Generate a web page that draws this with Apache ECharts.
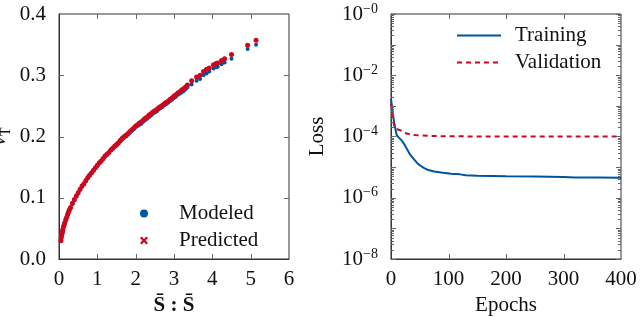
<!DOCTYPE html>
<html>
<head>
    <meta charset="utf-8" />
    <title></title>
    <script src="https://cdn.jsdelivr.net/npm/echarts@6/dist/echarts.min.js"></script>
</head>
<body style="margin:0;background:#fff;">
    <div id="main" style="width:640px;height:333px;"></div>
    <script>
        // left panel: nu_T against S:S
        var strainX = [0.05, 0.06, 0.07, 0.08, 0.09, 0.10, 0.12, 0.135, 0.15, 0.175, 0.20, 0.225, 0.25, 0.275, 0.30, 0.35,
            0.40, 0.45, 0.50, 0.55, 0.60, 0.65, 0.70, 0.75, 0.80, 0.85, 0.90, 0.95, 1.00, 1.05, 1.10, 1.15, 1.20, 1.25,
            1.30, 1.35, 1.40, 1.45, 1.50, 1.55, 1.60, 1.65, 1.70, 1.75, 1.80, 1.85, 1.90, 1.95, 2.00, 2.05, 2.10, 2.15,
            2.20, 2.25, 2.30, 2.35, 2.40, 2.45, 2.50, 2.55, 2.60, 2.65, 2.70, 2.75, 2.80, 2.85, 2.90, 2.95, 3.00, 3.05,
            3.10, 3.15, 3.20, 3.25, 3.30, 3.35,
            3.46, 3.59, 3.68, 3.77, 3.85, 3.92, 4.03, 4.10, 4.14, 4.24, 4.32, 4.50, 4.92, 5.14];
        var nuPredicted = [0.030, 0.035, 0.039, 0.042, 0.045, 0.048, 0.053, 0.056, 0.059, 0.064, 0.068, 0.073, 0.077, 0.081, 0.084, 0.091,
            0.097, 0.103, 0.108, 0.114, 0.119, 0.123, 0.128, 0.133, 0.137, 0.141, 0.145, 0.149, 0.153, 0.157, 0.160, 0.164, 0.168, 0.171,
            0.174, 0.178, 0.181, 0.184, 0.187, 0.190, 0.194, 0.197, 0.200, 0.202, 0.205, 0.208, 0.211, 0.214, 0.217, 0.219, 0.222, 0.224,
            0.227, 0.230, 0.232, 0.235, 0.237, 0.240, 0.242, 0.244, 0.247, 0.249, 0.251, 0.254, 0.256, 0.258, 0.261, 0.263, 0.266, 0.268,
            0.271, 0.273, 0.276, 0.278, 0.281, 0.284,
            0.291, 0.297, 0.300, 0.306, 0.310, 0.312, 0.317, 0.319, 0.320, 0.324, 0.327, 0.334, 0.349, 0.357];
        var nuModeled = [0.030, 0.035, 0.039, 0.042, 0.045, 0.048, 0.053, 0.056, 0.059, 0.063, 0.067, 0.072, 0.076, 0.080, 0.083, 0.090,
            0.096, 0.102, 0.107, 0.113, 0.118, 0.122, 0.127, 0.132, 0.136, 0.140, 0.144, 0.148, 0.152, 0.156, 0.159, 0.163, 0.167, 0.170,
            0.173, 0.177, 0.180, 0.183, 0.185, 0.188, 0.192, 0.195, 0.198, 0.200, 0.203, 0.206, 0.209, 0.212, 0.215, 0.217, 0.219, 0.221,
            0.224, 0.227, 0.229, 0.232, 0.234, 0.237, 0.239, 0.241, 0.244, 0.246, 0.248, 0.251, 0.253, 0.255, 0.258, 0.260, 0.263, 0.265,
            0.268, 0.270, 0.272, 0.274, 0.277, 0.280,
            0.285, 0.291, 0.294, 0.300, 0.303, 0.306, 0.311, 0.313, 0.314, 0.318, 0.321, 0.327, 0.343, 0.350];

        // right panel: loss history
        var epochsTrain = [0, 3, 6, 10, 14, 18, 22, 27, 33, 39, 45, 50, 57, 65, 75, 90, 105, 120, 130, 150, 200, 250, 300, 320, 360, 400];
        var lossTrain = [1.7e-3, 6e-4, 2.5e-4, 1.1e-4, 9e-5, 7.6e-5, 6e-5, 4.1e-5, 2.6e-5, 1.9e-5, 1.4e-5, 1.15e-5, 9.5e-6, 8e-6,
            7.2e-6, 6.5e-6, 6.1e-6, 5.8e-6, 5.4e-6, 5.2e-6, 5.0e-6, 4.9e-6, 4.8e-6, 4.6e-6, 4.6e-6, 4.5e-6];
        var epochsVal = [0, 3, 5, 7, 12, 16, 22, 27, 35, 50, 80, 150, 250, 400];
        var lossVal = [1.2e-3, 5e-4, 2.5e-4, 1.9e-4, 1.7e-4, 1.6e-4, 1.4e-4, 1.25e-4, 1.15e-4, 1.08e-4, 1.03e-4, 1.0e-4, 1.0e-4, 1.0e-4];

        // tick positions
        var strainTicks = [1, 2, 3, 4, 5];
        var nuTicks = [0.1, 0.2, 0.3];
        var epochTicks = [100, 200, 300];
        var lossExponents = [0, -2, -4, -6, -8]; // labelled decades

        var blue = '#00549F', red = '#CC071E';
        var font = 'Liberation Serif';
        var fs = 21;

        function frame() {
            return { show: true, onZero: false, lineStyle: { color: '#333', width: 1 } };
        }
        function zip(a, b) {
            return a.map(function (v, i) { return [v, b[i]]; });
        }

        var crossIcon = 'path://M0,2 L2,0 L5,3 L8,0 L10,2 L7,5 L10,8 L8,10 L5,7 L2,10 L0,8 L3,5 Z';

        var chart = echarts.init(document.getElementById('main'));
        chart.setOption({
            animation: false,
            textStyle: { fontFamily: font, color: '#111' },
            grid: [
                { left: 59, top: 14, width: 230, height: 245, outerBoundsMode: 'none', show: true, borderColor: '#333', borderWidth: 1 },
                { left: 391, top: 14, width: 230, height: 245, outerBoundsMode: 'none', show: true, borderColor: '#333', borderWidth: 1 }
            ],
            legend: [
                {
                    data: ['Modeled', { name: 'Predicted', icon: crossIcon }],
                    orient: 'vertical', left: 135, top: 198, itemGap: 6,
                    itemWidth: 8, itemHeight: 8,
                    textStyle: { fontFamily: font, fontSize: fs, lineHeight: 20, color: '#111', padding: [0, 0, 0, 26] }
                },
                {
                    data: ['Training', 'Validation'],
                    orient: 'vertical', left: 451, top: 20, itemGap: 6,
                    itemWidth: 44, itemHeight: 14,
                    itemStyle: { opacity: 0 },
                    textStyle: { fontFamily: font, fontSize: fs, lineHeight: 20, color: '#111', padding: [0, 0, 0, 9] }
                }
            ],
            xAxis: [
                {
                    gridIndex: 0, type: 'value', min: 0, max: 6, interval: 1,
                    axisLine: frame(), axisTick: { show: false }, splitLine: { show: false },
                    axisLabel: { fontFamily: font, fontSize: fs, color: '#111', margin: 10 },
                    name: 'S\u0304 : S\u0304', nameLocation: 'middle', nameGap: 26,
                    nameTextStyle: { fontFamily: font, fontSize: fs, fontWeight: 'bold', color: '#111' }
                },
                {
                    gridIndex: 1, type: 'value', min: 0, max: 400, interval: 100,
                    axisLine: frame(), axisTick: { show: false }, splitLine: { show: false },
                    axisLabel: { fontFamily: font, fontSize: fs, color: '#111', margin: 10 },
                    name: 'Epochs', nameLocation: 'middle', nameGap: 24,
                    nameTextStyle: { fontFamily: font, fontSize: fs, color: '#111' }
                }
            ],
            yAxis: [
                {
                    gridIndex: 0, type: 'value', min: 0, max: 0.4, interval: 0.1,
                    axisLine: frame(), axisTick: { show: false }, splitLine: { show: false },
                    axisLabel: {
                        fontFamily: font, fontSize: fs, color: '#111', margin: 13,
                        formatter: function (v) { return v.toFixed(1); }
                    },
                    name: '{n|\u03bd}{s|T}', nameLocation: 'middle', nameGap: 46,
                    nameTextStyle: {
                        rich: {
                            n: { fontFamily: font, fontSize: 22, fontStyle: 'italic', color: '#111' },
                            s: { fontFamily: font, fontSize: 14, color: '#111', padding: [14, 0, 0, 0] }
                        }
                    }
                },
                {
                    gridIndex: 1, type: 'log', logBase: 10, min: 1e-8, max: 1, splitNumber: 8,
                    axisLine: frame(), axisTick: { show: false }, splitLine: { show: false },
                    axisLabel: {
                        margin: 13,
                        formatter: function (v) {
                            var ex = Math.round(Math.log10(v));
                            if (lossExponents.indexOf(ex) < 0) return '';
                            return '{b|10}{s|\u2212' + Math.abs(ex) + '}';
                        },
                        rich: {
                            b: { fontFamily: font, fontSize: fs, color: '#111' },
                            s: { fontFamily: font, fontSize: 14, color: '#111', padding: [0, 0, 10, 0] }
                        }
                    },
                    name: 'Loss', nameLocation: 'middle', nameGap: 63,
                    nameTextStyle: { fontFamily: font, fontSize: fs, color: '#111' }
                }
            ],
            series: [
                {
                    name: 'Modeled', type: 'scatter', xAxisIndex: 0, yAxisIndex: 0,
                    symbol: 'circle', symbolSize: 4, itemStyle: { color: blue, opacity: 1 },
                    data: zip(strainX, nuModeled)
                },
                {
                    name: 'Predicted', type: 'scatter', xAxisIndex: 0, yAxisIndex: 0,
                    symbol: 'circle', symbolSize: 5, itemStyle: { color: red, opacity: 1 },
                    data: zip(strainX, nuPredicted)
                },
                {
                    name: 'Training', type: 'line', xAxisIndex: 1, yAxisIndex: 1,
                    symbol: 'none', lineStyle: { color: blue, width: 2 }, itemStyle: { color: blue },
                    data: zip(epochsTrain, lossTrain)
                },
                {
                    name: 'Validation', type: 'line', xAxisIndex: 1, yAxisIndex: 1,
                    symbol: 'none', lineStyle: { color: red, width: 2, type: [5, 4] }, itemStyle: { color: red },
                    data: zip(epochsVal, lossVal)
                }
            ]
        });

        // inward ticks on all four sides, placed through the axes' own scales
        var marks = [];
        function seg(x1, y1, x2, y2) {
            marks.push({
                type: 'line', z: 100, silent: true,
                shape: { x1: x1, y1: y1, x2: x2, y2: y2 },
                style: { stroke: '#666', lineWidth: 1 }
            });
        }
        function px(opt, v) { return Math.round(chart.convertToPixel(opt, v)) + 0.5; }

        var lTop = chart.convertToPixel({ yAxisIndex: 0 }, 0.4), lBot = chart.convertToPixel({ yAxisIndex: 0 }, 0);
        var lLeft = chart.convertToPixel({ xAxisIndex: 0 }, 0), lRight = chart.convertToPixel({ xAxisIndex: 0 }, 6);
        strainTicks.forEach(function (v) {
            var x = px({ xAxisIndex: 0 }, v);
            seg(x, lBot, x, lBot - 5); seg(x, lTop, x, lTop + 5);
        });
        nuTicks.forEach(function (v) {
            var y = px({ yAxisIndex: 0 }, v);
            seg(lLeft, y, lLeft + 5, y); seg(lRight, y, lRight - 5, y);
        });

        var rTop = chart.convertToPixel({ yAxisIndex: 1 }, 1), rBot = chart.convertToPixel({ yAxisIndex: 1 }, 1e-8);
        var rLeft = chart.convertToPixel({ xAxisIndex: 1 }, 0), rRight = chart.convertToPixel({ xAxisIndex: 1 }, 400);
        epochTicks.forEach(function (v) {
            var x = px({ xAxisIndex: 1 }, v);
            seg(x, rBot, x, rBot - 5); seg(x, rTop, x, rTop + 5);
        });
        for (var e = -8; e <= 0; e++) {
            var yd = px({ yAxisIndex: 1 }, Math.pow(10, e));
            seg(rLeft, yd, rLeft + 5, yd); seg(rRight, yd, rRight - 5, yd);
            if (e === 0) break;
            for (var m = 2; m <= 9; m++) {
                var ym = px({ yAxisIndex: 1 }, m * Math.pow(10, e));
                seg(rLeft, ym, rLeft + 3, ym); seg(rRight, ym, rRight - 3, ym);
            }
        }
        chart.setOption({ graphic: { elements: marks } });
    </script>
</body>
</html>
